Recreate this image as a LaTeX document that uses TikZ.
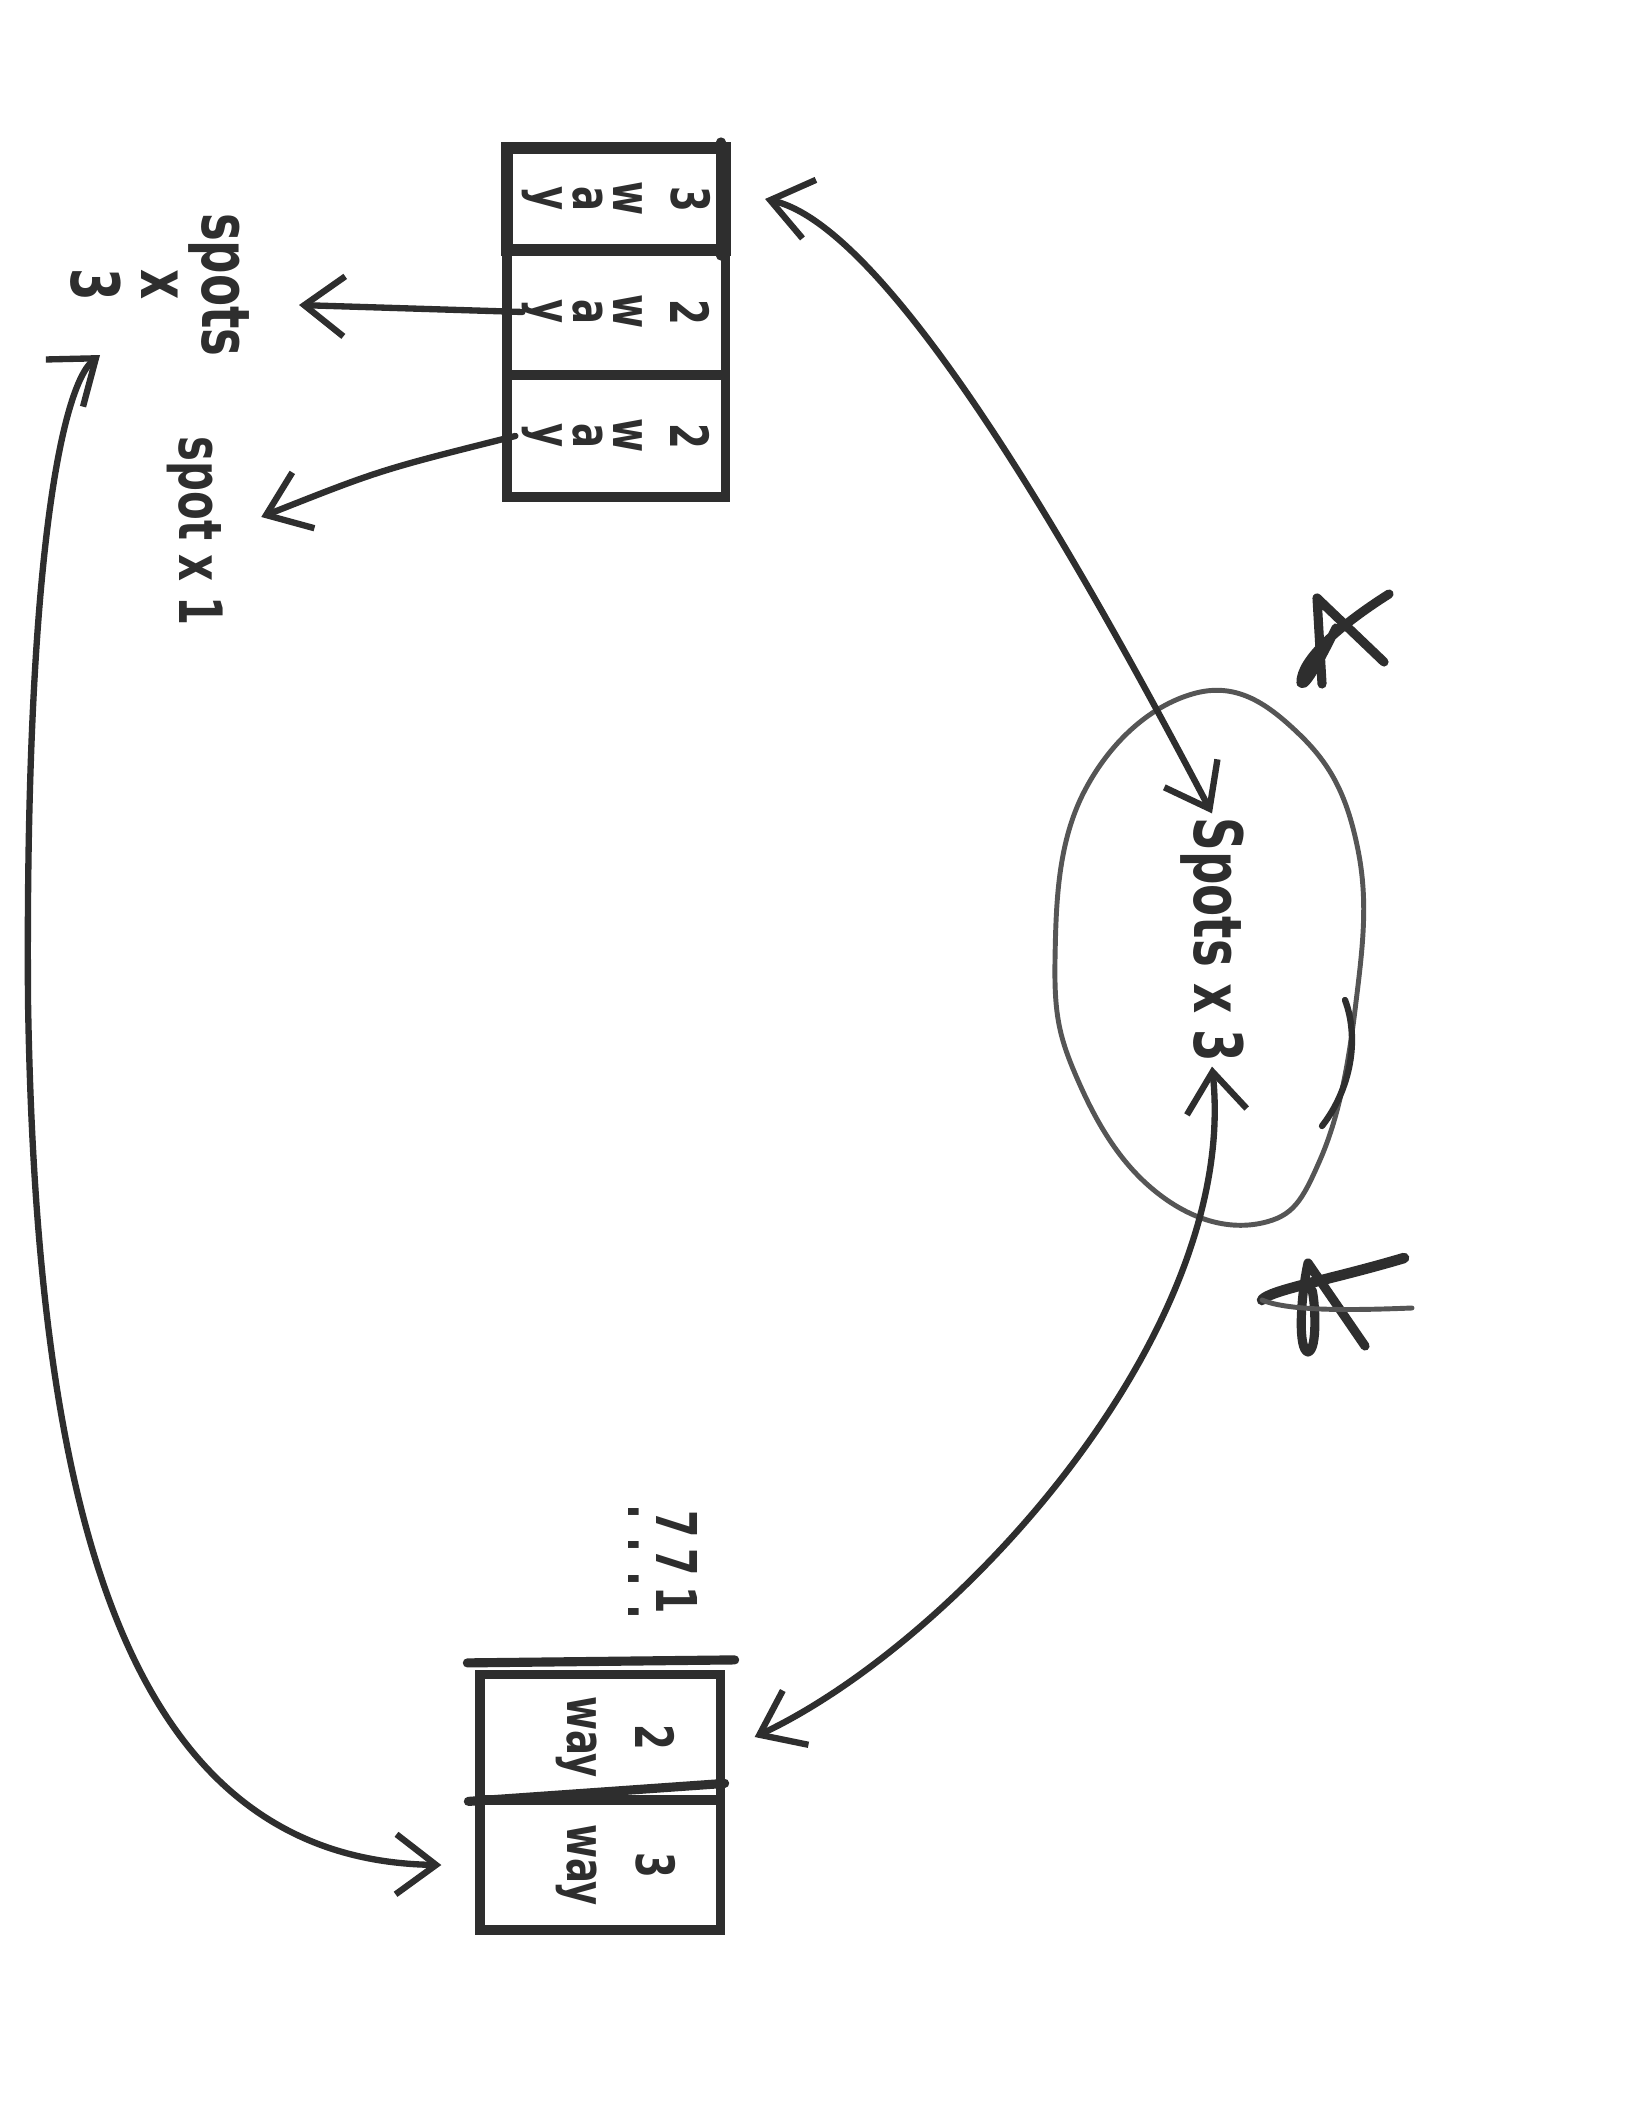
\documentclass[tikz,border=0pt]{standalone}
\usepackage{fontspec}
\newfontfamily\hand[FakeStretch=0.7]{DejaVu Sans}
\usetikzlibrary{arrows.meta}
\definecolor{inkc}{HTML}{2E2E2E}
\definecolor{faintc}{HTML}{555555}
\tikzset{
	cell/.style={draw=inkc, line width=2.6pt, inner sep=0pt, minimum width=2.18cm, text=inkc, font=\hand\bfseries\fontsize{15}{15}\selectfont},
	scrawl/.style={inner sep=1pt, text=inkc, font=\hand\bfseries\fontsize{19}{19}\selectfont},
	link/.style={draw=inkc, line width=1.8pt, line cap=round, line join=round},
	pen/.style={draw=inkc, line width=2.6pt, line cap=round, line join=round},
	faint/.style={draw=faintc, line width=1.4pt, line cap=round}
}

\begin{document}
\begin{tikzpicture}[x=0.01cm, y=-0.01cm, >={Straight Barb[length=4mm,width=6mm]}]
		\fill[white] (0,0) rectangle (1631,2119);
		\useasboundingbox (0,0) rectangle (1631,2119);
		% top stack
		\node[cell, minimum height=1.02cm, line width=3.4pt] (topA) at (616,199) {\rotatebox{-90}{\shortstack{3\\[5pt]w\\a\\y}}};
		\node[cell, minimum height=1.25cm] (topB) at (616,312) {\rotatebox{-90}{\shortstack{2\\[5pt]w\\a\\y}}};
		\node[cell, minimum height=1.22cm] (topC) at (616,436) {\rotatebox{-90}{\shortstack{2\\[5pt]w\\a\\y}}};
		\draw[pen] ([xshift=-0.1cm]topA.north east) -- ([xshift=-0.1cm]topA.south east);
		% bottom stack
		\node[cell, minimum width=2.4cm, minimum height=1.25cm] (botA) at (600,1737) {\rotatebox{-90}{\shortstack{2\\[8pt]way\rule[-12pt]{0pt}{12pt}}}};
		\node[cell, minimum width=2.4cm, minimum height=1.3cm] (botB) at (600,1865) {\rotatebox{-90}{\shortstack{3\\[8pt]way\rule[-12pt]{0pt}{12pt}}}};
		\draw[pen] ([xshift=-0.08cm,yshift=0.07cm]botA.north west) -- ([xshift=0.1cm,yshift=0.1cm]botA.north east);
		\draw[pen] ([xshift=-0.07cm,yshift=-0.06cm]botB.north west) -- ([yshift=0.12cm]botB.north east);
		\node[scrawl, font=\hand\bfseries\fontsize{16}{16}\selectfont] (memo) at (663,1562) {\rotatebox{-90}{\shortstack{7\hspace{3pt}7\hspace{3pt}1\\[2pt]. . . .}}};
		% labels
		\node[scrawl] (spotsThree) at (160,285) {\rotatebox{-90}{\shortstack{spots\\x\\[3pt]3}}};
		\node[scrawl, font=\hand\bfseries\fontsize{17}{17}\selectfont] (spotOne) at (195,531) {\rotatebox{-90}{spot x 1}};
		% egg
		\draw[faint] plot[smooth cycle, tension=0.7] coordinates {(1196,693) (1300,735) (1358,850) (1355,1010) (1320,1160) (1262,1223) (1160,1195) (1080,1085) (1055,960) (1085,790)};
		\draw[faint, draw=inkc, line width=1.8pt] (1345,1000) .. controls (1360,1040) and (1350,1090) .. (1322,1126);
		\node[scrawl, rotate=-90] (hub) at (1212,940) {Spots x 3};
		% stars
		\draw[pen] (1322,684) -- (1317,598) -- (1384,662);
		\draw[pen] (1389,594) .. controls (1340,625) and (1300,660) .. (1301,683) .. controls (1305,690) and (1325,650) .. (1336,628);
		\draw[pen] (1365,1346) -- (1308,1263) .. controls (1300,1300) and (1298,1350) .. (1308,1352) .. controls (1318,1350) and (1315,1300) .. (1312,1290);
		\draw[pen, line width=3pt] (1404,1258) .. controls (1330,1280) and (1270,1290) .. (1262,1300);
		\draw[faint] (1262,1300) .. controls (1290,1312) and (1360,1310) .. (1412,1308);
		% arrows
		\draw[link,->] ([xshift=0.2cm]topB.west) -- ([xshift=0.45cm,yshift=-0.2cm]spotsThree.east);
		\draw[link,->] ([xshift=0.13cm]topC.west) .. controls (380,470) .. ([xshift=0.34cm,yshift=0.14cm]spotOne.east);
		\draw[link,<->] ([xshift=0.34cm]topA.east) .. controls (900,230) and (1110,620) .. (hub.west);
		\draw[link,<->] ([xshift=0.3cm]botA.east) .. controls (960,1640) and (1240,1330) .. (hub.east);
		\draw[link,<->] ([xshift=0.34cm,yshift=0.06cm]spotsThree.south west) .. controls (62,385) and (25,560) .. (28,1000) .. controls (36,1500) and (120,1860) .. ([xshift=-0.34cm]botB.west);
	\end{tikzpicture}
\end{document}
